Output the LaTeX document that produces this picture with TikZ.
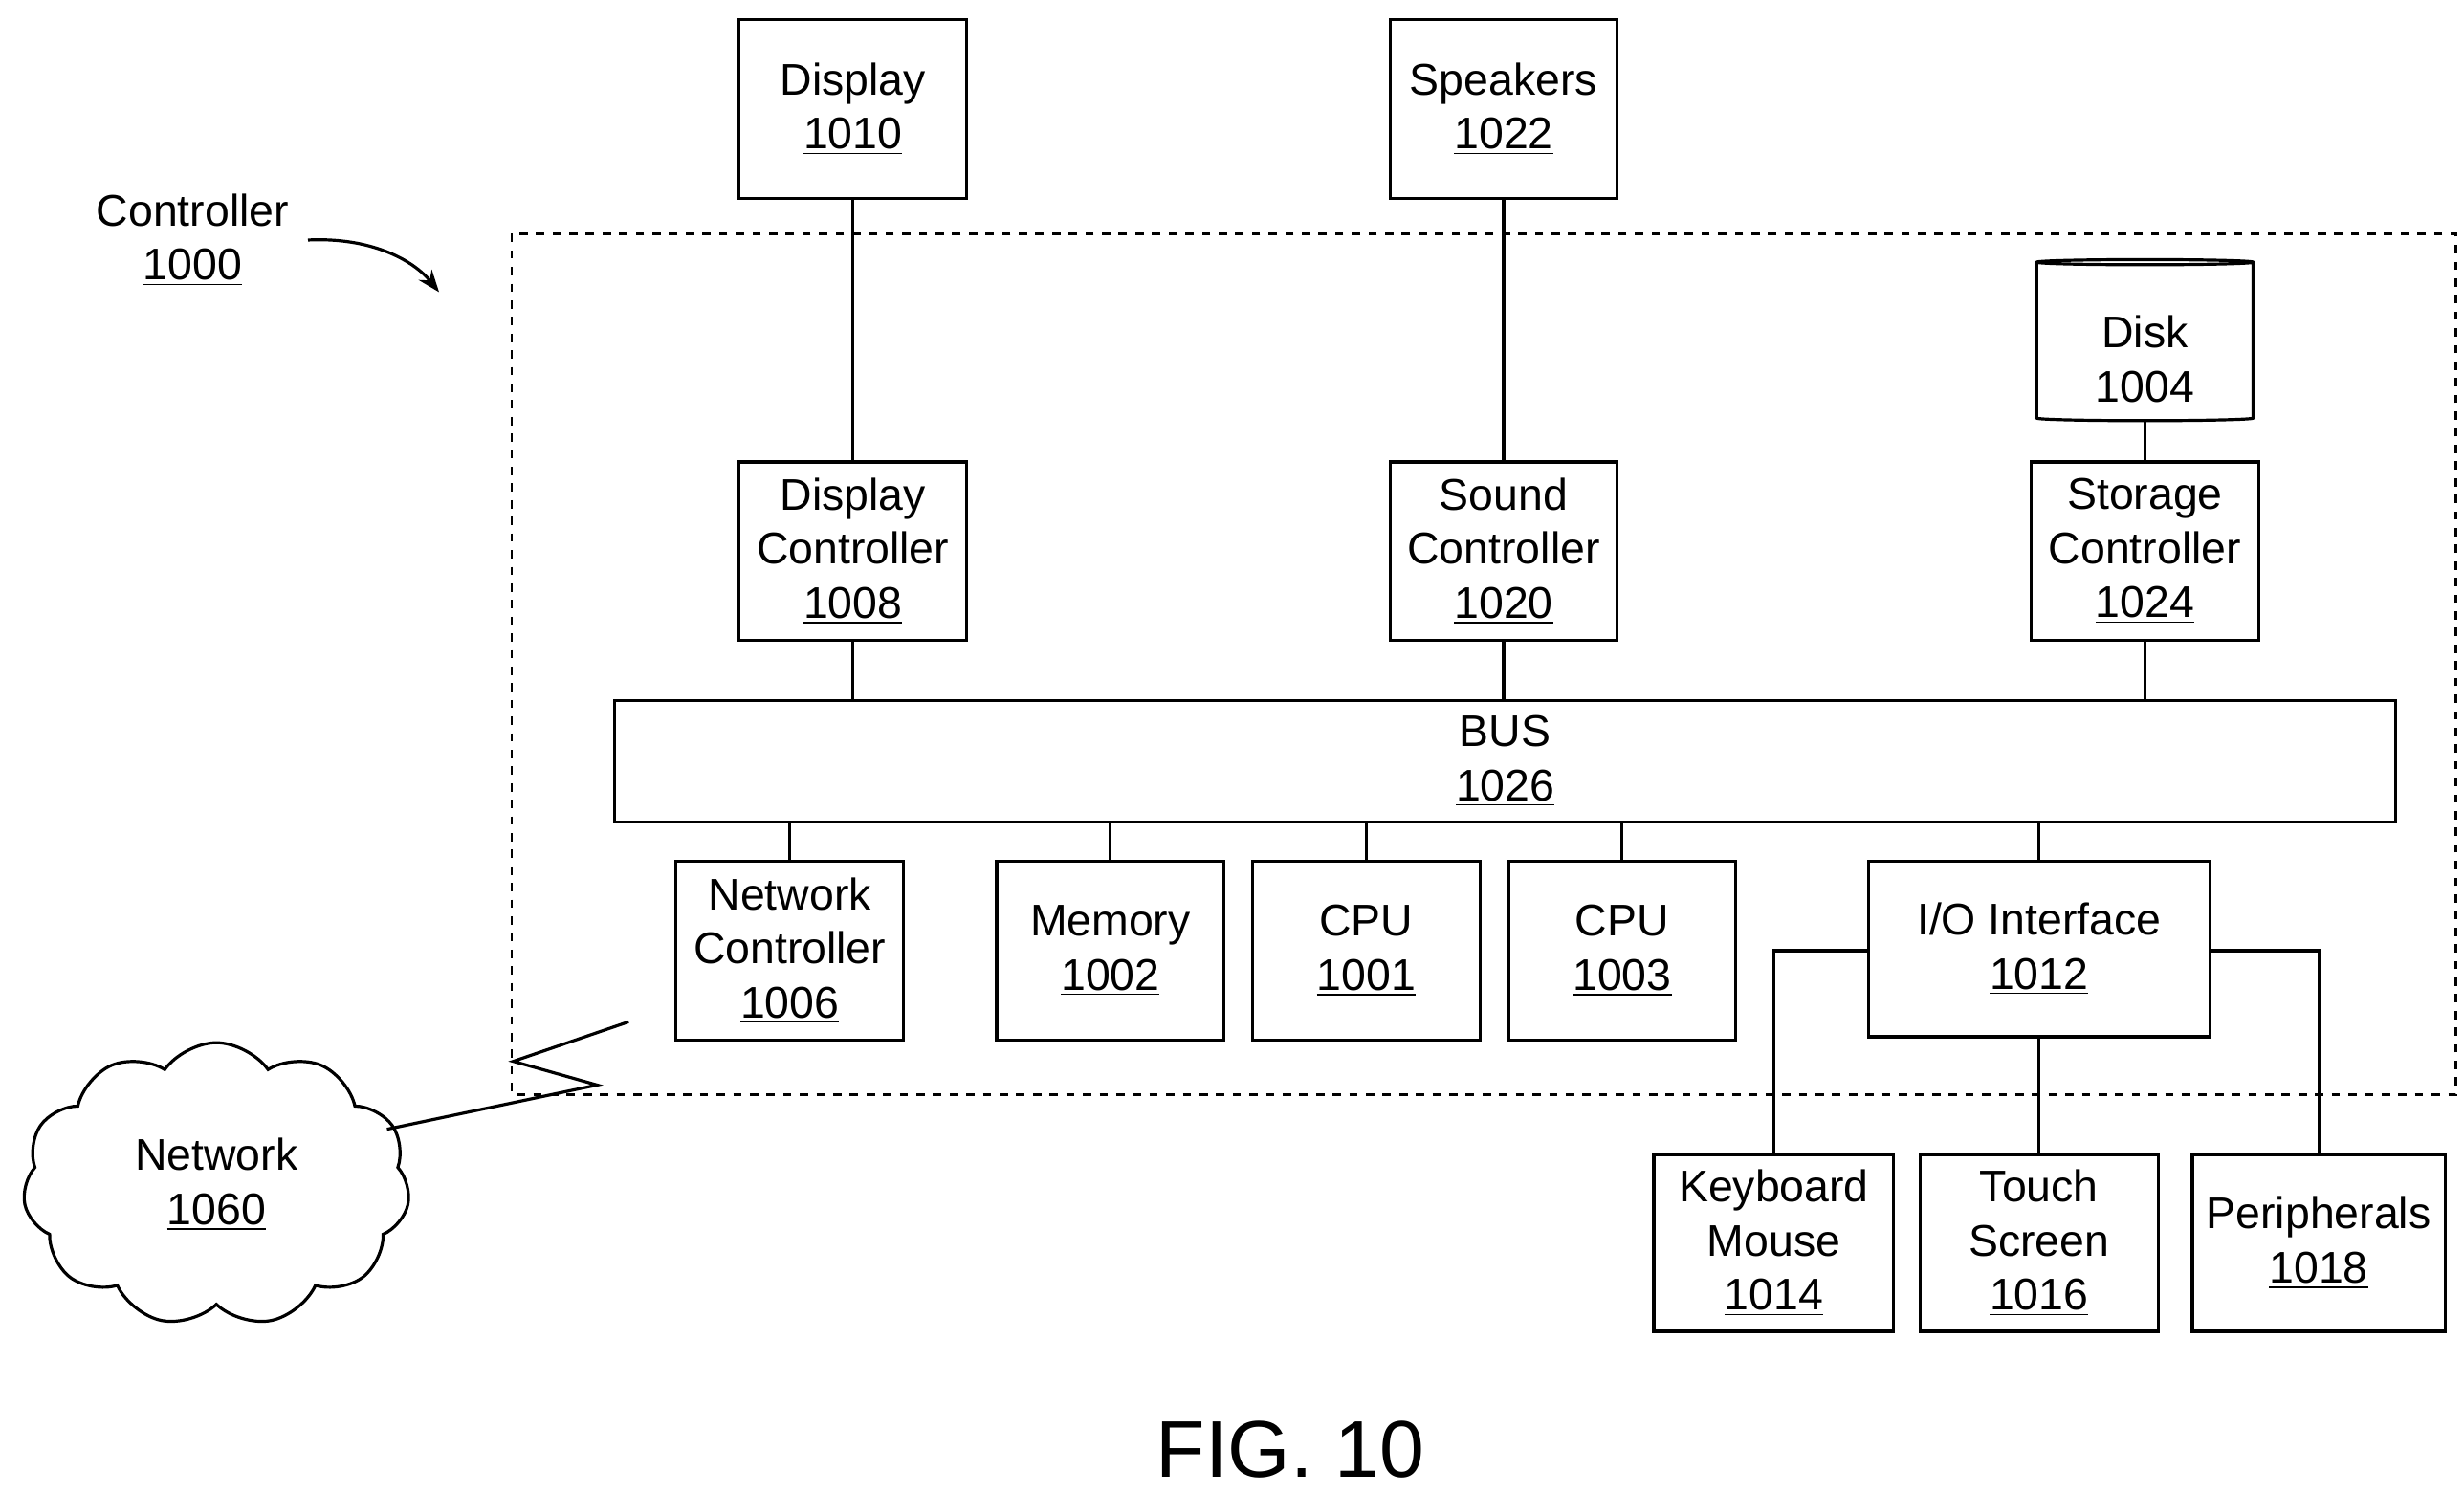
\documentclass[tikz,border=0pt]{standalone}
\usepackage{fontspec}
\setmainfont{Liberation Sans}
\usetikzlibrary{shapes.geometric,shapes.symbols,arrows.meta}
\begin{document}
\begin{tikzpicture}[x=0.02cm,y=-0.02cm,
	line width=1.1pt,
	every node/.style={font=\fontsize{16}{19.5}\selectfont, align=center},
	box/.style={draw, minimum width=2.88cm, minimum height=2.26cm, inner sep=2pt}]
	\useasboundingbox (0,0) rectangle (1560,945);
	% Frontera del controlador
		\draw[dashed, line width=0.9pt] (324,148) rectangle (1555,693);
		\node (ctl) at (122,152) {Controller\\\underline{1000}};
		\draw[-{Stealth[length=8pt]}] (195,152) .. controls (235,150) and (262,165) .. (278,185);
	
	% Cajas superiores
		\node[box] (disp) at (540,69) {Display\\\underline{1010}};
		\node[box] (spk) at (952,69) {Speakers\\\underline{1022}};
		\node[draw, cylinder, shape border rotate=90, aspect=0.28, minimum width=2.74cm, minimum height=2.04cm] (disk) at (1358,217) {};
		\node at (1358,229) {Disk\\\underline{1004}};
	
	% Controladores
		\node[box] (dctl) at (540,349) {Display\\Controller\\\underline{1008}};
		\node[box] (sctl) at (952,349) {Sound\\Controller\\\underline{1020}};
		\node[box] (stctl) at (1358,349) {Storage\\Controller\\\underline{1024}};
	
	% Bus
		\node[draw, minimum width=22.56cm, minimum height=1.54cm] (bus) at (953,482) {BUS\\\underline{1026}};
	
	% Fila inferior
		\node[box] (net) at (500,602) {Network\\Controller\\\underline{1006}};
		\node[box] (mem) at (703,602) {Memory\\\underline{1002}};
		\node[box] (cpua) at (865,602) {CPU\\\underline{1001}};
		\node[box] (cpub) at (1027,602) {CPU\\\underline{1003}};
		\node[draw, minimum width=4.32cm, minimum height=2.22cm] (io) at (1291,601) {I/O Interface\\\underline{1012}};
	
	% Perifericos
		\node[draw, minimum width=3.04cm, minimum height=2.24cm] (kbd) at (1123,787) {Keyboard\\Mouse\\\underline{1014}};
		\node[draw, minimum width=3.02cm, minimum height=2.24cm] (tch) at (1291,787) {Touch\\Screen\\\underline{1016}};
		\node[draw, minimum width=3.2cm, minimum height=2.24cm] (per) at (1468,787) {Peripherals\\\underline{1018}};
	
	% Red
		\node[draw, cloud, cloud puffs=11, cloud puff arc=110, minimum width=4.9cm, minimum height=2.5cm] (cloud) at (137,750) {Network\\\underline{1060}};
		\draw (245,715) -- (378,687) -- (325,672) -- (398,647);
	
	% Conexiones
		\draw (disp) -- (dctl);
		\draw (spk) -- (sctl);
		\draw (disk) -- (stctl);
		\draw (dctl) -- (dctl |- bus.north);
		\draw (sctl) -- (sctl |- bus.north);
		\draw (stctl) -- (stctl |- bus.north);
		\foreach \n in {net,mem,cpua,cpub,io}
			\draw (\n) -- (\n |- bus.south);
		\draw (io.west) ++(0,1) -| (kbd);
		\draw (io.east) ++(0,1) -| (per);
		\draw (io) -- (tch);
	
		\node[font=\fontsize{29}{34}\selectfont] (fig) at (817,918) {FIG. 10};
\end{tikzpicture}
\end{document}
